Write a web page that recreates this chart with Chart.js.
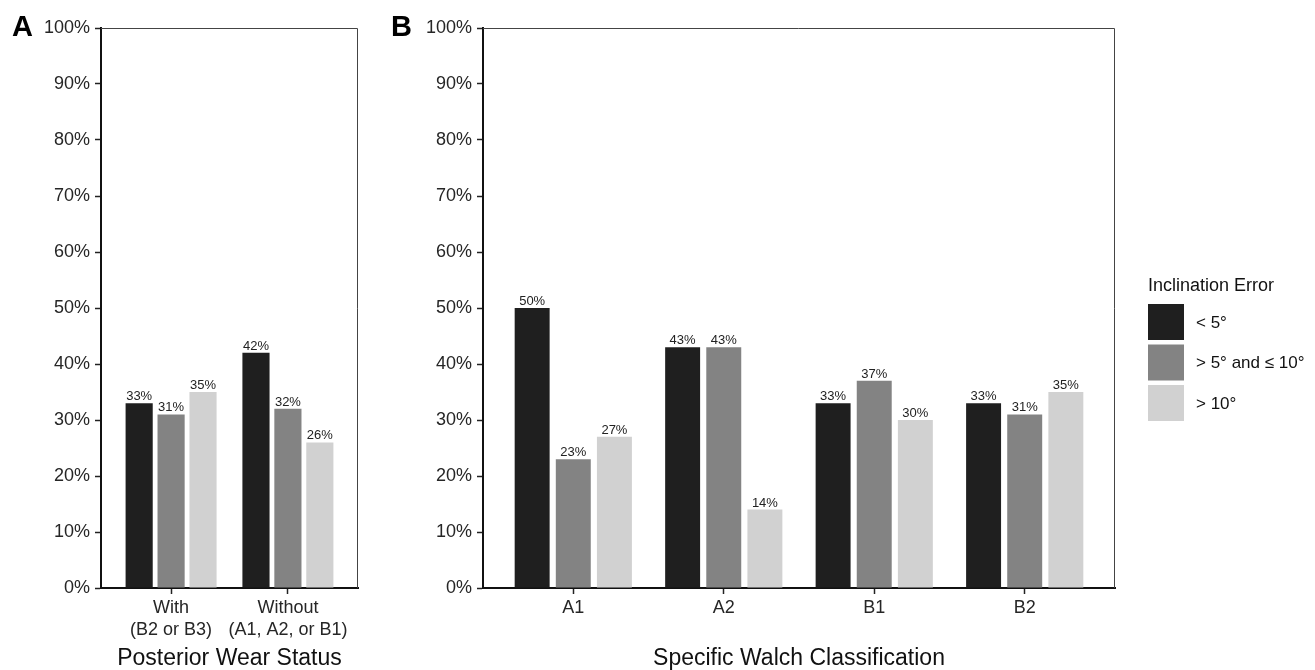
<!DOCTYPE html>
<html>
<head>
<meta charset="utf-8">
<script src="https://cdn.jsdelivr.net/npm/chart.js@4.4.1/dist/chart.umd.min.js"></script>
<style>
body { margin: 0; background: #fff; }
#wrapA { position: absolute; left: 0; top: 0; width: 372px; height: 670px; }
#wrapB { position: absolute; left: 380px; top: 0; width: 935px; height: 670px; }
</style>
</head>
<body>
<div id="wrapA"><canvas id="chartA"></canvas></div>
<div id="wrapB"><canvas id="chartB"></canvas></div>
<script>
const seriesNames = ['< 5°', '> 5° and ≤ 10°', '> 10°'];
const seriesColors = ['#1f1f1f', '#838383', '#d1d1d1'];

const wearLabels = [['With', '(B2 or B3)'], ['Without', '(A1, A2, or B1)']];
const wearLt5 = [33, 42];
const wear5to10 = [31, 32];
const wearGt10 = [35, 26];

const walchLabels = ['A1', 'A2', 'B1', 'B2'];
const walchLt5 = [50, 43, 33, 33];
const walch5to10 = [23, 43, 37, 31];
const walchGt10 = [27, 14, 30, 35];

const FONT = '"Liberation Sans", Arial, Helvetica, sans-serif';
const TXT = '#262626';

// value labels over each bar
const valueLabels = {
  id: 'valueLabels',
  afterDatasetsDraw(chart) {
    const ctx = chart.ctx;
    ctx.save();
    ctx.font = '13px ' + FONT;
    ctx.fillStyle = '#222';
    ctx.textAlign = 'center';
    ctx.textBaseline = 'alphabetic';
    chart.data.datasets.forEach((ds, i) => {
      chart.getDatasetMeta(i).data.forEach((bar, j) => {
        ctx.fillText(ds.data[j].y + '%', bar.x, bar.y - 3);
      });
    });
    ctx.restore();
  }
};

// thin top/right border + panel letter
const frame = {
  id: 'frame',
  afterDraw(chart, args, opts) {
    const { left, right, top, bottom } = chart.chartArea;
    const ctx = chart.ctx;
    ctx.save();
    ctx.strokeStyle = '#444';
    ctx.lineWidth = 1;
    ctx.beginPath();
    ctx.moveTo(left, top + 0.5);
    ctx.lineTo(right - 0.5, top + 0.5);
    ctx.lineTo(right - 0.5, bottom);
    ctx.stroke();
    ctx.fillStyle = '#000';
    ctx.font = 'bold 29px ' + FONT;
    ctx.textBaseline = 'alphabetic';
    ctx.fillText(opts.tag, opts.tagX, 36);
    ctx.restore();
  }
};

// legend drawn to the right of panel B
const sideLegend = {
  id: 'sideLegend',
  afterDraw(chart, args, opts) {
    if (!opts.show) return;
    const ctx = chart.ctx;
    const x = chart.chartArea.right + 33;
    ctx.save();
    ctx.fillStyle = '#111';
    ctx.font = '18px ' + FONT;
    ctx.textBaseline = 'middle';
    ctx.fillText('Inclination Error', x, 286);
    ctx.font = '17px ' + FONT;
    chart.data.datasets.forEach((ds, i) => {
      const y = 304 + i * 40.5;
      ctx.fillStyle = ds.backgroundColor;
      ctx.fillRect(x, y, 36, 36);
      ctx.fillStyle = '#111';
      ctx.fillText(ds.label, x + 48, y + 19);
    });
    ctx.restore();
  }
};

function makeChart(id, labels, s1, s2, s3, title, yWidth, padRight, tag, tagX, showLegend) {
  const values = [s1, s2, s3];
  return new Chart(document.getElementById(id), {
    type: 'bar',
    data: {
      datasets: values.map((arr, i) => ({
        label: seriesNames[i],
        data: arr.map((v, j) => ({ x: j, y: v })),
        backgroundColor: seriesColors[i],
        categoryPercentage: 0.82,
        barPercentage: 0.85
      }))
    },
    options: {
      responsive: true,
      maintainAspectRatio: false,
      animation: false,
      layout: { padding: { top: 28, right: padRight, left: 0, bottom: 0 } },
      plugins: {
        legend: { display: false },
        tooltip: { enabled: false },
        frame: { tag: tag, tagX: tagX },
        sideLegend: { show: showLegend }
      },
      scales: {
        x: {
          type: 'linear',
          offset: false,
          min: -0.6,
          max: labels.length - 0.4,
          afterBuildTicks(s) { s.ticks = labels.map((_, i) => ({ value: i })); },
          ticks: {
            callback: v => labels[v],
            autoSkip: false,
            maxRotation: 0,
            color: TXT,
            font: { family: FONT, size: 18, lineHeight: 1.17 },
            padding: 4
          },
          grid: { offset: false, drawOnChartArea: false, tickLength: 6, color: '#222', tickWidth: 1.5 },
          border: { display: true, color: '#111', width: 2 },
          title: { display: true, text: title, color: '#111', font: { family: FONT, size: 23, lineHeight: 1 }, padding: 0 },
          afterFit(s) { s.height = 82; }
        },
        y: {
          min: 0,
          max: 100,
          ticks: {
            stepSize: 10,
            callback: v => v + '%',
            color: TXT,
            font: { family: FONT, size: 18 },
            padding: 5
          },
          grid: { drawOnChartArea: false, tickLength: 6, color: '#222', tickWidth: 1.5 },
          border: { display: true, color: '#111', width: 2 },
          afterFit(s) { s.width = yWidth; }
        }
      }
    },
    plugins: [valueLabels, frame, sideLegend]
  });
}

makeChart('chartA', wearLabels, wearLt5, wear5to10, wearGt10, 'Posterior Wear Status', 101, 14, 'A', 12, false);
makeChart('chartB', walchLabels, walchLt5, walch5to10, walchGt10, 'Specific Walch Classification', 103, 200, 'B', 11, true);
</script>
</body>
</html>
